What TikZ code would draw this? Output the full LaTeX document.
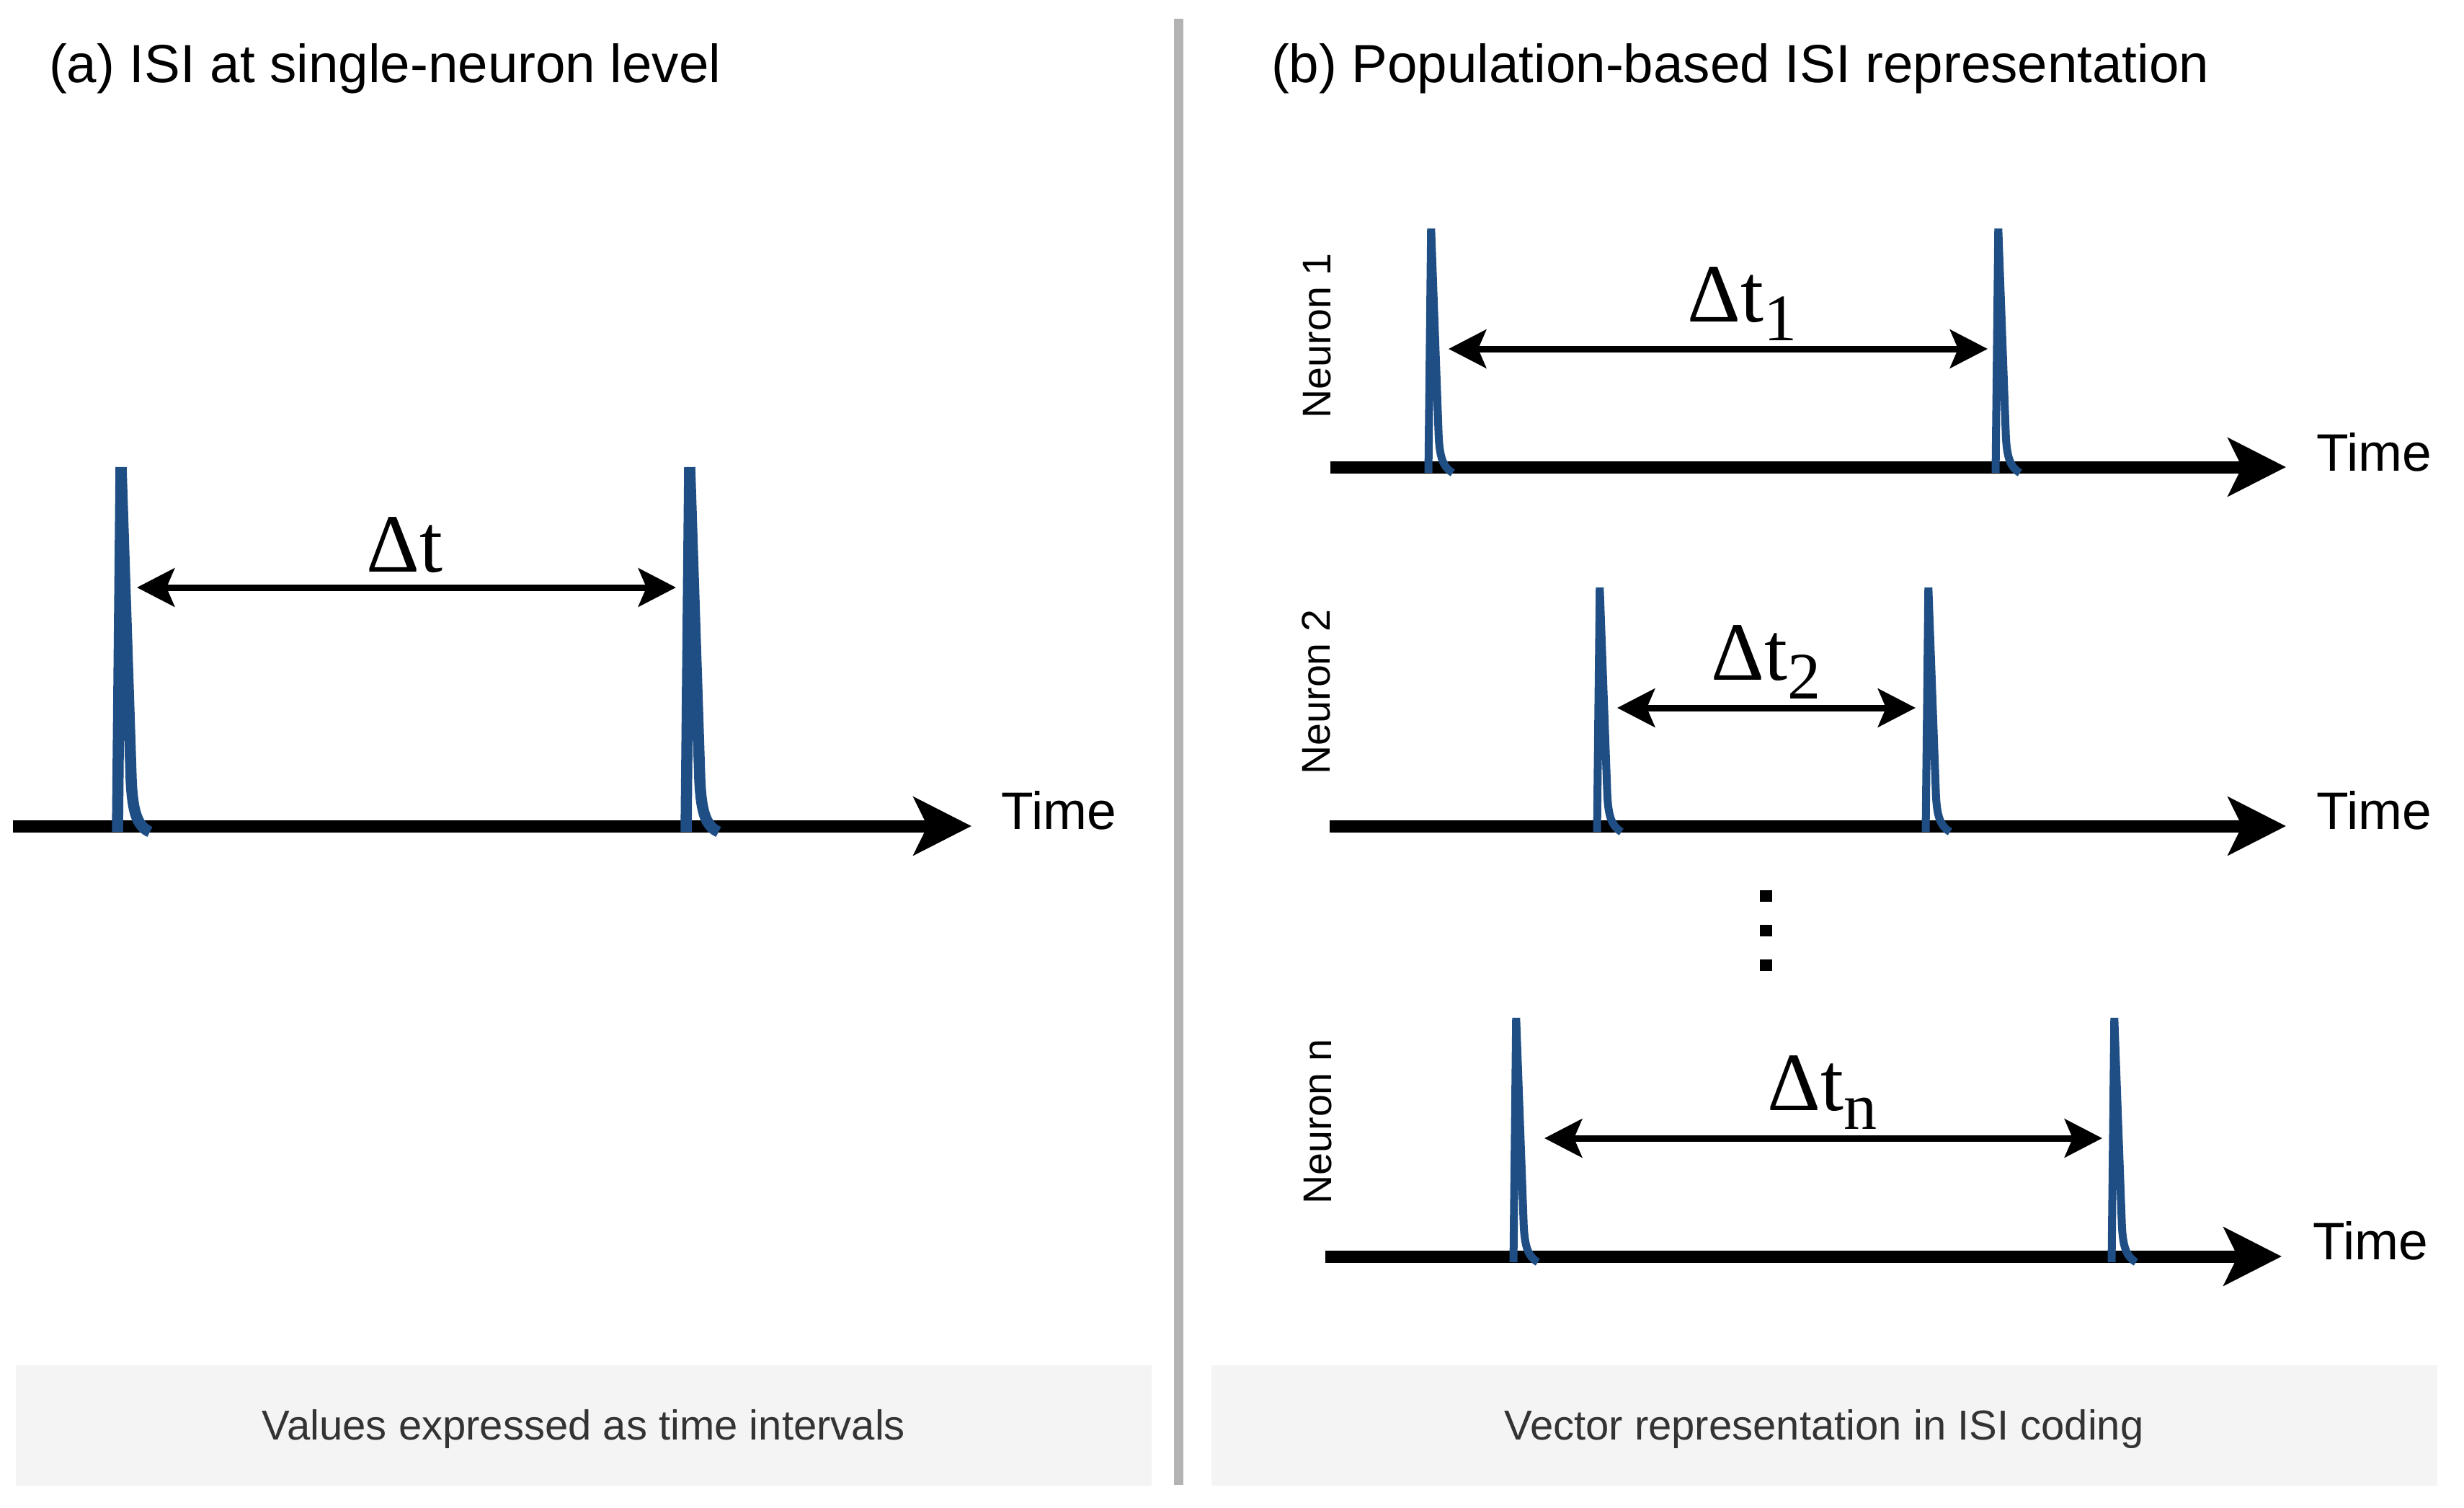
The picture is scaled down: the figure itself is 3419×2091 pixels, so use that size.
\documentclass[tikz,border=0pt]{standalone}
\usepackage{fontspec}
\setmainfont{Liberation Sans}
\newfontfamily\dtfont{Liberation Serif}
\usetikzlibrary{arrows.meta}
\definecolor{spikeblue}{HTML}{1F4E85}
\definecolor{divgray}{HTML}{B3B3B3}
\definecolor{boxgray}{HTML}{F4F4F4}
\definecolor{captext}{HTML}{333333}
\newcommand{\lowsub}[1]{\raisebox{-0.26cm}{\fontsize{26.2pt}{30pt}\selectfont #1}}
\newcommand{\drawspike}[5]{%
  \draw[spikeline, line width=#5] ({#1},{#2+8}) -- ({#1+5*#4},{#2-#3}) -- ({#1+19*#4},{#2-0.13*#3})
    .. controls ({#1+21*#4},{#2-0.04*#3}) and ({#1+27*#4},{#2}) .. ({#1+45*#4},{#2+8});}
\begin{document}
\begin{tikzpicture}[x=0.01cm, y=-0.01cm,
  axisarrow/.style={line width=0.17cm, -{Stealth[length=0.8cm,width=0.8cm,inset=0.19cm]}},
  isiarrow/.style={line width=0.09cm, {Stealth[length=0.52cm,width=0.53cm,inset=0.11cm]}-{Stealth[length=0.52cm,width=0.53cm,inset=0.11cm]}},
  spikeline/.style={draw=spikeblue, line join=bevel, line cap=butt},
  paneltitle/.style={font=\fontsize{21.2pt}{25pt}\selectfont, inner sep=0, outer sep=0, anchor=base west},
  timelbl/.style={font=\fontsize{20.8pt}{25pt}\selectfont, inner sep=0, outer sep=0, anchor=base west},
  neuronlbl/.style={font=\fontsize{15.8pt}{18pt}\selectfont, inner sep=0, outer sep=0, rotate=90, anchor=base},
  dtlbl/.style={font=\dtfont\fontsize{32.7pt}{38pt}\selectfont, inner sep=0, outer sep=0, anchor=base},
  captionlbl/.style={font=\fontsize{16.5pt}{20pt}\selectfont, text=captext, inner sep=0, outer sep=0, anchor=base},
  capbox/.style={fill=boxgray, draw=none},
  dotsq/.style={fill=black, draw=none}
]
\useasboundingbox (0,0) rectangle (3419,2091);

% caption boxes
\fill[capbox] (22,1894) rectangle (1598,2061);
\fill[capbox] (1681,1894) rectangle (3382,2061);
\node[captionlbl] (capA) at (810,1997) {Values expressed as time intervals};
\node[captionlbl] (capB) at (2531,1997) {Vector representation in ISI coding};

% divider
\draw[divgray, line width=0.13cm] (1635,26) -- (1635,2060);

% titles
\node[paneltitle] (titA) at (68,115) {(a) ISI at single-neuron level};
\node[paneltitle] (titB) at (1764,115) {(b) Population-based ISI representation};

% ---------- panel (a) ----------
\coordinate (axA0) at (18,1146);
\coordinate (axA1) at (1348,1146);
\draw[axisarrow] (axA0) -- (axA1);
\node[timelbl] (timeA) at (1389,1150) {Time};
\drawspike{163}{1146}{498}{1}{0.155cm}
\drawspike{952}{1146}{498}{1}{0.155cm}
\coordinate (isiA0) at (190,815);
\coordinate (isiA1) at (938,815);
\draw[isiarrow] (isiA0) -- (isiA1);
\node[dtlbl] (dtA) at (561.5,793) {Δt};

% ---------- panel (b), neuron 1 ----------
\coordinate (ax10) at (1846,648);
\coordinate (ax11) at (3172,648);
\draw[axisarrow] (ax10) -- (ax11);
\node[timelbl] (time1) at (3214,653) {Time};
\node[neuronlbl] (n1) at (1846,466) {Neuron 1};
\drawspike{1982}{648}{331}{0.75}{0.11cm}
\drawspike{2769}{648}{331}{0.75}{0.11cm}
\coordinate (isi10) at (2010,484);
\coordinate (isi11) at (2758,484);
\draw[isiarrow] (isi10) -- (isi11);
\node[dtlbl] (dt1) at (2417.5,446) {Δt\lowsub{1}};

% ---------- neuron 2 ----------
\coordinate (ax20) at (1845,1146);
\coordinate (ax21) at (3172,1146);
\draw[axisarrow] (ax20) -- (ax21);
\node[timelbl] (time2) at (3214,1150) {Time};
\node[neuronlbl] (n2) at (1845,960) {Neuron 2};
\drawspike{2216}{1146}{331}{0.75}{0.11cm}
\drawspike{2672}{1146}{331}{0.75}{0.11cm}
\coordinate (isi20) at (2244,982);
\coordinate (isi21) at (2658,982);
\draw[isiarrow] (isi20) -- (isi21);
\node[dtlbl] (dt2) at (2450.5,943) {Δt\lowsub{2}};

% vertical dots
\fill[dotsq] (2441.5,1235) rectangle (2458.5,1251);
\fill[dotsq] (2441.5,1283) rectangle (2458.5,1299);
\fill[dotsq] (2441.5,1331) rectangle (2458.5,1347);

% ---------- neuron n ----------
\coordinate (axn0) at (1839,1743);
\coordinate (axn1) at (3166,1743);
\draw[axisarrow] (axn0) -- (axn1);
\node[timelbl] (timen) at (3209,1747) {Time};
\node[neuronlbl] (nn) at (1847,1556) {Neuron n};
\drawspike{2100}{1743}{331}{0.75}{0.11cm}
\drawspike{2930}{1743}{331}{0.75}{0.11cm}
\coordinate (isin0) at (2143,1579);
\coordinate (isin1) at (2917,1579);
\draw[isiarrow] (isin0) -- (isin1);
\node[dtlbl] (dtn) at (2528.5,1540) {Δt\lowsub{n}};
\end{tikzpicture}
\end{document}
